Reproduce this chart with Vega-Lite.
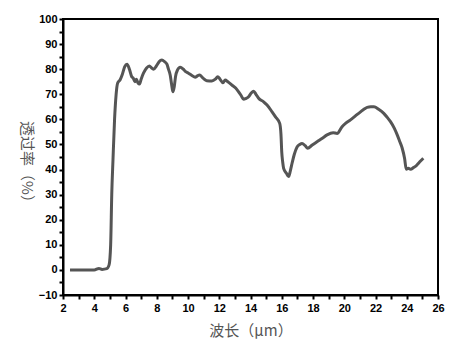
{
  "$schema": "https://vega.github.io/schema/vega-lite/v6.json",
  "width": 375,
  "height": 276,
  "autosize": {"type": "none"},
  "padding": {"left": 63, "top": 19, "right": 15, "bottom": 57},
  "background": "white",
  "config": {
    "view": {"stroke": "black", "strokeWidth": 2},
    "axis": {"grid": false}
  },
  "data": {
    "values": [
      {"wl": 2.45, "t": 0}, {"wl": 3.0, "t": 0}, {"wl": 3.5, "t": 0}, {"wl": 4.0, "t": 0}, {"wl": 4.3, "t": 0.6}, {"wl": 4.5, "t": 0.2}, {"wl": 4.8, "t": 0.5}, {"wl": 4.95, "t": 2},
      {"wl": 5.05, "t": 10}, {"wl": 5.12, "t": 30}, {"wl": 5.2, "t": 44}, {"wl": 5.3, "t": 60}, {"wl": 5.4, "t": 70}, {"wl": 5.5, "t": 74.5}, {"wl": 5.65, "t": 75.7}, {"wl": 5.8, "t": 78},
      {"wl": 5.95, "t": 81}, {"wl": 6.1, "t": 82}, {"wl": 6.25, "t": 80}, {"wl": 6.4, "t": 77}, {"wl": 6.5, "t": 76.4}, {"wl": 6.6, "t": 75}, {"wl": 6.7, "t": 76}, {"wl": 6.8, "t": 74.5},
      {"wl": 6.9, "t": 74.1}, {"wl": 7.0, "t": 76}, {"wl": 7.15, "t": 78.4}, {"wl": 7.35, "t": 80.5}, {"wl": 7.53, "t": 81.3}, {"wl": 7.65, "t": 80.6}, {"wl": 7.79, "t": 80}, {"wl": 8.0, "t": 81.5},
      {"wl": 8.15, "t": 83}, {"wl": 8.33, "t": 83.7}, {"wl": 8.5, "t": 83}, {"wl": 8.65, "t": 82}, {"wl": 8.75, "t": 80}, {"wl": 8.86, "t": 77.7}, {"wl": 8.95, "t": 74}, {"wl": 9.03, "t": 71},
      {"wl": 9.12, "t": 73}, {"wl": 9.2, "t": 77}, {"wl": 9.33, "t": 79.7}, {"wl": 9.5, "t": 80.8}, {"wl": 9.7, "t": 80}, {"wl": 9.85, "t": 79}, {"wl": 10.03, "t": 78.4}, {"wl": 10.25, "t": 77.5},
      {"wl": 10.46, "t": 76.8}, {"wl": 10.6, "t": 77.3}, {"wl": 10.74, "t": 77.7}, {"wl": 10.95, "t": 76.5}, {"wl": 11.2, "t": 75.4}, {"wl": 11.53, "t": 75.3}, {"wl": 11.75, "t": 76}, {"wl": 11.9, "t": 77},
      {"wl": 12.05, "t": 76}, {"wl": 12.24, "t": 74.6}, {"wl": 12.38, "t": 75.7}, {"wl": 12.55, "t": 75}, {"wl": 12.81, "t": 73.7}, {"wl": 13.05, "t": 72.5}, {"wl": 13.24, "t": 71}, {"wl": 13.4, "t": 69.5},
      {"wl": 13.56, "t": 68}, {"wl": 13.7, "t": 68.3}, {"wl": 13.88, "t": 69}, {"wl": 14.05, "t": 70.5}, {"wl": 14.2, "t": 71.2}, {"wl": 14.35, "t": 70}, {"wl": 14.52, "t": 68.4}, {"wl": 14.84, "t": 67},
      {"wl": 15.06, "t": 65.7}, {"wl": 15.38, "t": 63}, {"wl": 15.6, "t": 61}, {"wl": 15.87, "t": 58.4}, {"wl": 15.95, "t": 54}, {"wl": 16.0, "t": 47}, {"wl": 16.06, "t": 43}, {"wl": 16.12, "t": 40.5},
      {"wl": 16.3, "t": 38.5}, {"wl": 16.44, "t": 37.2}, {"wl": 16.55, "t": 39.5}, {"wl": 16.66, "t": 42.5}, {"wl": 16.8, "t": 46}, {"wl": 16.98, "t": 49}, {"wl": 17.15, "t": 50}, {"wl": 17.3, "t": 50.4},
      {"wl": 17.5, "t": 49.5}, {"wl": 17.66, "t": 48.5}, {"wl": 17.95, "t": 49.8}, {"wl": 18.26, "t": 51.1}, {"wl": 18.6, "t": 52.5}, {"wl": 18.9, "t": 53.8}, {"wl": 19.29, "t": 54.7}, {"wl": 19.54, "t": 54.4},
      {"wl": 19.86, "t": 57.1}, {"wl": 20.1, "t": 58.5}, {"wl": 20.4, "t": 59.8}, {"wl": 20.7, "t": 61.3}, {"wl": 21.04, "t": 63}, {"wl": 21.3, "t": 64.2}, {"wl": 21.47, "t": 64.8}, {"wl": 21.7, "t": 65},
      {"wl": 21.9, "t": 65}, {"wl": 22.2, "t": 64}, {"wl": 22.53, "t": 62.4}, {"wl": 22.75, "t": 60.8}, {"wl": 22.96, "t": 59.1}, {"wl": 23.2, "t": 56.5}, {"wl": 23.39, "t": 53.8}, {"wl": 23.55, "t": 51.2},
      {"wl": 23.71, "t": 48.5}, {"wl": 23.86, "t": 44.5}, {"wl": 23.97, "t": 40.1}, {"wl": 24.1, "t": 40.5}, {"wl": 24.24, "t": 40.1}, {"wl": 24.46, "t": 40.9}, {"wl": 24.6, "t": 41.5}, {"wl": 24.78, "t": 42.7},
      {"wl": 24.9, "t": 43.5}, {"wl": 25.06, "t": 44.5}
    ]
  },
  "mark": {"type": "line", "color": "#555555", "strokeWidth": 3, "interpolate": "monotone"},
  "encoding": {
    "x": {
      "field": "wl", "type": "quantitative",
      "scale": {"domain": [2, 26], "nice": false, "zero": false},
      "axis": {
        "orient": "bottom",
        "title": "波长（μm）",
        "titleFont": "Noto Sans CJK SC", "titleFontSize": 15, "titleFontWeight": "normal", "titleColor": "#555555", "titlePadding": 10,
        "values": [2, 3, 4, 5, 6, 7, 8, 9, 10, 11, 12, 13, 14, 15, 16, 17, 18, 19, 20, 21, 22, 23, 24, 25, 26],
        "labelExpr": "datum.value % 2 == 0 ? datum.label : ''",
        "labelFont": "Liberation Sans", "labelFontSize": 11, "labelFontWeight": "bold", "labelColor": "black", "labelPadding": 3, "labelFlush": false,
        "tickColor": "black", "tickWidth": 2, "tickSize": 4,
        "domainColor": "black", "domainWidth": 2
      }
    },
    "y": {
      "field": "t", "type": "quantitative",
      "scale": {"domain": [-10, 100], "nice": false, "zero": false},
      "axis": {
        "orient": "left",
        "title": "透过率（%）",
        "titleFont": "Noto Sans CJK SC", "titleFontSize": 15, "titleFontWeight": "normal", "titleColor": "#555555", "titleAngle": 90, "titlePadding": 20, "titleY": 146,
        "values": [-10, -5, 0, 5, 10, 15, 20, 25, 30, 35, 40, 45, 50, 55, 60, 65, 70, 75, 80, 85, 90, 95, 100],
        "labelExpr": "datum.value % 10 == 0 ? datum.label : ''",
        "labelFont": "Liberation Sans", "labelFontSize": 11, "labelFontWeight": "bold", "labelColor": "black", "labelPadding": 2, "labelFlush": false,
        "tickColor": "black", "tickWidth": 2, "tickSize": 4,
        "domainColor": "black", "domainWidth": 2
      }
    }
  }
}
